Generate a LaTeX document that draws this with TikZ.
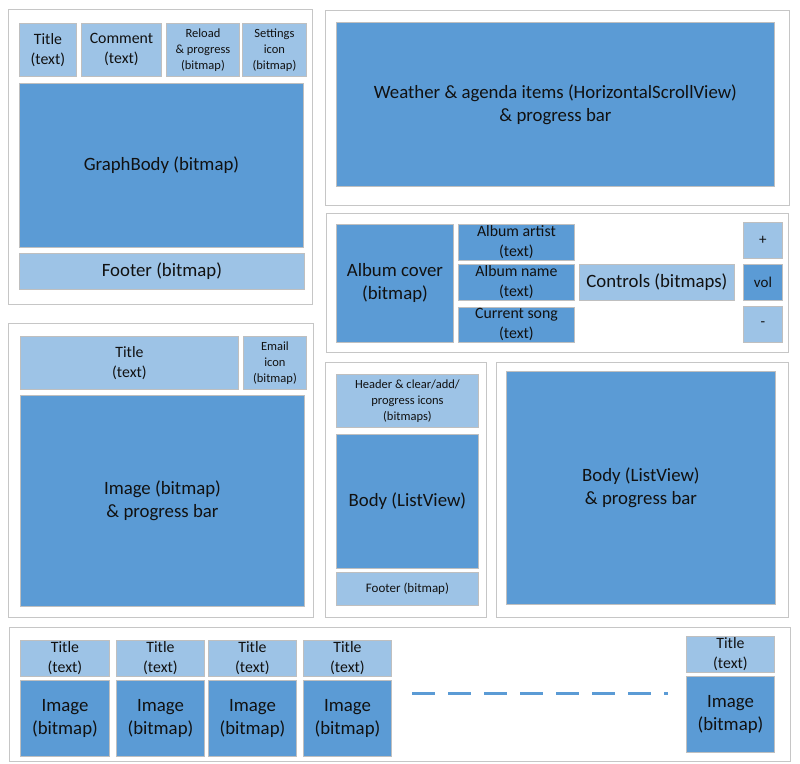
\documentclass[tikz,border=0pt]{standalone}
\usepackage{fontspec}
\setmainfont{Carlito}
\usepackage{tikz}
\usetikzlibrary{positioning}
\definecolor{boxdark}{HTML}{5B9BD5}
\definecolor{boxlite}{HTML}{9DC3E6}
\definecolor{boxline}{HTML}{BFBFBF}
\definecolor{frameline}{HTML}{C6C6C6}
\definecolor{inktext}{HTML}{111111}

\begin{document}
\begin{tikzpicture}[x=1pt,y=-1pt,
        box/.style={draw=boxline,line width=0.9pt,anchor=north west,
          inner sep=0pt,align=center,text=inktext},
        dark/.style={box,fill=boxdark},
        lite/.style={box,fill=boxlite},
        panel/.style={draw=frameline,line width=1pt},
        big/.style={font=\fontsize{18.8}{23}\selectfont},
        mid/.style={font=\fontsize{15.8}{20}\selectfont},
        small/.style={font=\fontsize{12.5}{16}\selectfont},
        sign/.style={font=\fontsize{15}{18}\selectfont}]
      \useasboundingbox (0,0) rectangle (800,763);
      % widget: graph
      \draw[panel] (8,9) rectangle (312,304);
      \node[lite,mid,minimum width=57,minimum height=53] (gtitle) at (19,23) {Title\\(text)};
      \node[lite,mid,minimum width=80,minimum height=53] (gcomment) at (81,23) {Comment\\(text)};
      \node[lite,small,minimum width=73,minimum height=53] (greload) at (166,23) {Reload\\\& progress\\(bitmap)};
      \node[lite,small,minimum width=64,minimum height=53] (gsettings) at (242,23) {Settings\\icon\\(bitmap)};
      \node[dark,big,minimum width=284,minimum height=164] (gbody) at (19,83) {GraphBody (bitmap)};
      \node[lite,big,minimum width=285,minimum height=36] (gfooter) at (19,253) {Footer (bitmap)};
      % widget: weather
      \draw[panel] (325,10) rectangle (789,205);
      \node[dark,big,minimum width=438,minimum height=164] (wbody) at (336,22)
        {Weather \& agenda items (HorizontalScrollView)\\\& progress bar};
      % widget: music
      \draw[panel] (326,213) rectangle (788,352);
      \node[dark,big,minimum width=117,minimum height=118] (mcover) at (336,224) {Album cover\\(bitmap)};
      \node[dark,mid,minimum width=116,minimum height=36] (martist) at (458,224) {Album artist\\(text)};
      \node[dark,mid,minimum width=116,minimum height=36] (malbum) at (458,264) {Album name\\(text)};
      \node[dark,mid,minimum width=116,minimum height=35] (msong) at (458,307) {Current song\\(text)};
      \node[lite,big,minimum width=155,minimum height=36] (mcontrols) at (579,264) {Controls (bitmaps)};
      \node[lite,sign,minimum width=39,minimum height=36] (mplus) at (743,222) {+};
      \node[dark,sign,minimum width=39,minimum height=36] (mvol) at (743,264) {vol};
      \node[lite,sign,minimum width=39,minimum height=36] (mminus) at (743,306) {-};
      % widget: mail
      \draw[panel] (8,323) rectangle (313,617);
      \node[lite,mid,minimum width=218,minimum height=53] (etitle) at (20,336) {Title\\(text)};
      \node[lite,small,minimum width=63,minimum height=53] (eicon) at (243,336) {Email\\icon\\(bitmap)};
      \node[dark,big,minimum width=284,minimum height=211] (eimage) at (20,395) {Image (bitmap)\\\& progress bar};
      % widget: list
      \draw[panel] (325,362) rectangle (486,617);
      \node[lite,small,minimum width=142,minimum height=53] (lheader) at (336,374)
        {Header \& clear/add/\\progress icons\\(bitmaps)};
      \node[dark,big,minimum width=142,minimum height=134] (lbody) at (336,434) {Body (ListView)};
      \node[lite,font=\fontsize{13}{16}\selectfont,minimum width=142,minimum height=33] (lfooter) at (336,572) {Footer (bitmap)};
      % widget: list, wide
      \draw[panel] (496,362) rectangle (788,617);
      \node[dark,big,minimum width=269,minimum height=233] (bbody) at (506,371) {Body (ListView)\\\& progress bar};
      % widget: gallery
      \draw[panel] (9,627) rectangle (790,761);
      \foreach \n/\x/\w in {1/20/89,2/116/88,3/208/88,4/303/88}{
        \node[lite,mid,minimum width=\w,minimum height=36] (ptitle\n) at (\x,640) {Title\\(text)};
        \node[dark,big,minimum width=\w,minimum height=76] (pimage\n) at (\x,680) {Image\\(bitmap)};
      }
      \node[lite,mid,minimum width=88,minimum height=36] (ptitle5) at (686,636) {Title\\(text)};
      \node[dark,big,minimum width=88,minimum height=76] (pimage5) at (686,676) {Image\\(bitmap)};
      \coordinate (pgapA) at (412,693);
      \coordinate (pgapB) at (668,693);
      \draw[boxdark,line width=3pt,dash pattern=on 23pt off 13pt] (pgapA) -- (pgapB);
\end{tikzpicture}
\end{document}
